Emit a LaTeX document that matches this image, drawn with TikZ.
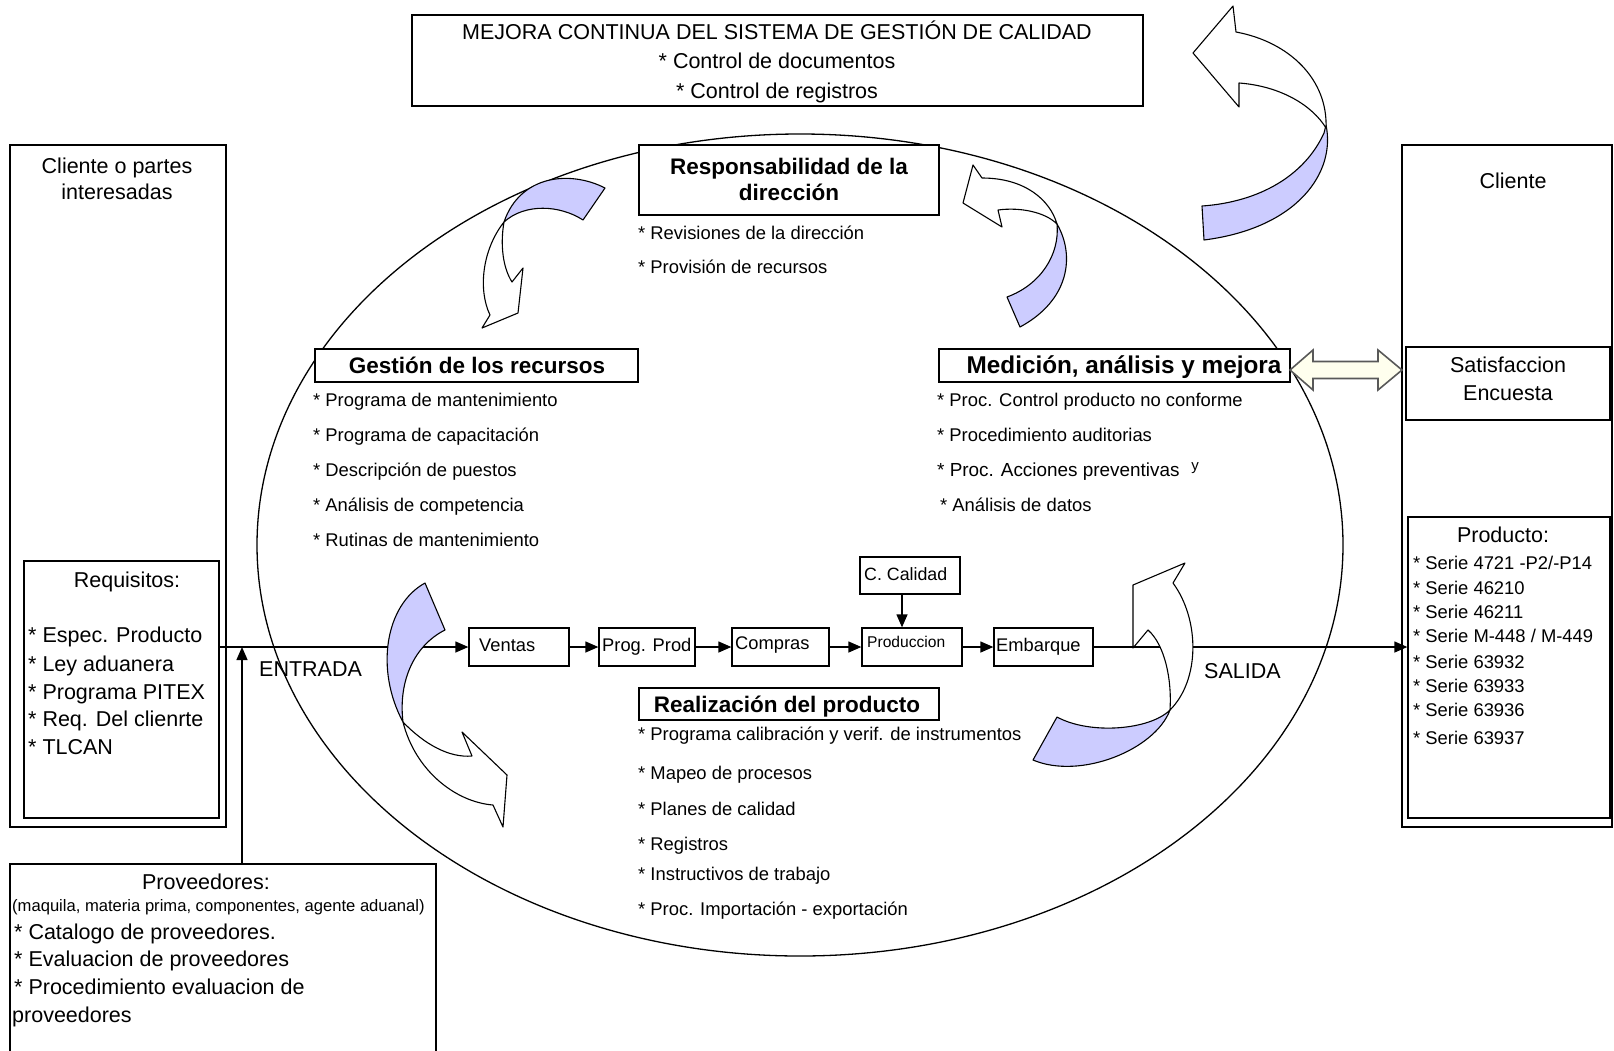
\documentclass[tikz,border=0pt]{standalone}
\usepackage{fontspec}
\setmainfont{Liberation Sans}
\usetikzlibrary{arrows.meta,fit,calc}
\definecolor{ribbon}{RGB}{204,204,255}
\definecolor{dblfill}{RGB}{255,255,238}
\begin{document}
\begin{tikzpicture}[x=1pt,y=-1pt,
  box/.style={draw=black, line width=1.3pt, fill=white, inner sep=0pt},
  conn/.style={draw=black, line width=1.3pt, -{Triangle[length=13pt,width=11pt]}},
  bigt/.style={font=\fontsize{21.5}{26}\selectfont, inner sep=0pt, text height=15.5pt, text depth=0pt},
  itm/.style={font=\fontsize{18.4}{22}\selectfont, inner sep=0pt, text height=13.2pt, text depth=0pt, anchor=west},
  hdr/.style={font=\bfseries\fontsize{22.5}{27}\selectfont, inner sep=0pt, text height=16.2pt, text depth=0pt},
  ptxt/.style={font=\fontsize{18.3}{22}\selectfont, inner sep=0pt, text height=13.2pt, text depth=0pt, anchor=west},
  bluepart/.style={fill=ribbon, draw=black, line width=1.1pt, line join=round},
  whitepart/.style={fill=white, draw=black, line width=1.1pt, line join=round},
]
\useasboundingbox (0,0) rectangle (1614,1050);
\fill[white] (0,0) rectangle (1614,1050);

% central ellipse
\draw[line width=1.3pt] (800,545) ellipse [x radius=543pt, y radius=411pt];

% boxes
\node[box, fit={(412,15) (1143,106)}] (mejora) {};
\node[box, fit={(10,145) (226,827)}] (cliL) {};
\node[box, fit={(24,561) (219,818)}] (req) {};
\node[box, fit={(10,864) (436,1060)}] (prov) {};
\node[box, fit={(1402,145) (1612,827)}] (cliR) {};
\node[box, fit={(1406,347) (1610,420)}] (satis) {};
\node[box, fit={(1408,517) (1610,818)}] (producto) {};
\node[box, fit={(639,145) (939,215)}] (resp) {};
\node[box, fit={(315,349) (638,382)}] (gest) {};
\node[box, fit={(939,349) (1290,382)}] (med) {};
\node[box, fit={(639,688) (939,720)}] (real) {};
\node[box, fit={(469,628) (569,666)}] (ventas) {};
\node[box, fit={(599,628) (695,666)}] (prog) {};
\node[box, fit={(732,628) (829,666)}] (compras) {};
\node[box, fit={(862,628) (962,666)}] (prod) {};
\node[box, fit={(860,557) (960,594)}] (cal) {};
\node[box, fit={(994,628) (1093,666)}] (emb) {};

% connectors
\coordinate (entry) at (242,647);
\draw[conn] (req.east |- ventas.west) -- (ventas.west);
\draw[conn] (ventas.east) -- (prog.west);
\draw[conn] (prog.east) -- (compras.west);
\draw[conn] (compras.east) -- (prod.west);
\draw[conn] (prod.east) -- (emb.west);
\draw[conn] (emb.east) -- (emb.east -| producto.west);
\draw[conn] ([xshift=-8pt]cal.south) -- ([xshift=-8pt]cal.south |- prod.north);
\draw[conn] (entry |- prov.north) -- (entry);

% double arrow between Medicion and Satisfaccion
\draw[fill=dblfill, draw=black!65, line width=1.6pt, line join=miter]
  (1290,370) -- (1313,350) -- (1313,361.5) -- (1378,361.5) -- (1378,350) -- (1402,370)
  -- (1378,390) -- (1378,378.5) -- (1313,378.5) -- (1313,390) -- cycle;

% curved ribbon arrows
% 1: top right
\draw[bluepart] (1326,125) .. controls (1336,172) and (1298,228) .. (1204,240) -- (1202,206)
  .. controls (1260,202) and (1305,175) .. (1324,133) -- cycle;
\draw[whitepart] (1193,53) -- (1233,6) -- (1236,32) .. controls (1290,42) and (1328,80) .. (1326,128)
  .. controls (1312,105) and (1280,86) .. (1239,83) -- (1239,107) -- cycle;
% 2: upper left
\draw[bluepart] (605,188) .. controls (570,170) and (520,175) .. (504,222)
  .. controls (525,203) and (560,205) .. (583,220) -- cycle;
\draw[whitepart] (504,222) .. controls (482,250) and (478,290) .. (490,315) -- (482,328) -- (518,313)
  -- (523,268) -- (512,282) .. controls (503,268) and (500,245) .. (504,222) -- cycle;
% 3: upper right
\draw[bluepart] (1057,224) .. controls (1075,255) and (1070,300) .. (1020,327) -- (1007,297)
  .. controls (1040,285) and (1060,255) .. (1057,224) -- cycle;
\draw[whitepart] (963,203) -- (973,165) -- (982,178) .. controls (1025,178) and (1050,200) .. (1057,224)
  .. controls (1045,212) and (1020,207) .. (998,210) -- (1002,227) -- cycle;
% 4: lower left
\draw[bluepart] (425,583) .. controls (385,605) and (375,670) .. (403,722)
  .. controls (398,680) and (415,645) .. (445,630) -- cycle;
\draw[whitepart] (403,722) .. controls (425,745) and (450,758) .. (472,756) -- (462,732) -- (507,775)
  -- (503,827) -- (493,805) .. controls (455,802) and (415,770) .. (403,722) -- cycle;
% 5: lower right
\draw[bluepart] (1170,710) .. controls (1155,750) and (1080,780) .. (1033,760) -- (1057,717)
  .. controls (1090,735) and (1150,730) .. (1170,710) -- cycle;
\draw[whitepart] (1133,585) -- (1185,563) -- (1173,583) .. controls (1200,620) and (1200,680) .. (1170,710)
  .. controls (1172,680) and (1165,645) .. (1148,630) -- (1133,648) -- cycle;

% texts: top box
\node[bigt] (m1) at (777,32) {MEJORA CONTINUA DEL SISTEMA DE GESTIÓN DE CALIDAD};
\node[bigt] (m2) at (777,61) {* Control de documentos};
\node[bigt] (m3) at (777,91) {* Control de registros};

% left column
\node[bigt] (cl1) at (117,166) {Cliente o partes};
\node[bigt] (cl2) at (117,192) {interesadas};
\node[bigt] (rq0) at (127,580) {Requisitos:};
\node[bigt, anchor=west] (rq1) at (28,635) {* Espec. Producto};
\node[bigt, anchor=west] (rq2) at (28,664) {* Ley aduanera};
\node[bigt, anchor=west] (rq3) at (28,692) {* Programa PITEX};
\node[bigt, anchor=west] (rq4) at (28,719) {* Req. Del clienrte};
\node[bigt, anchor=west] (rq5) at (28,747) {* TLCAN};

% proveedores
\node[bigt] (pv0) at (206,882) {Proveedores:};
\node[font=\fontsize{16.6}{20}\selectfont, inner sep=0pt, text height=12pt, text depth=0pt, anchor=west] (pv1) at (12,905) {(maquila, materia prima, componentes, agente aduanal)};
\node[bigt, anchor=west] (pv2) at (14,932) {* Catalogo de proveedores.};
\node[bigt, anchor=west] (pv3) at (14,959) {* Evaluacion de proveedores};
\node[bigt, anchor=west] (pv4) at (14,987) {* Procedimiento evaluacion de};
\node[bigt, anchor=west] (pv5) at (12,1015) {proveedores};

\node[bigt, anchor=west] (entr) at (259,669) {ENTRADA};
\node[bigt, anchor=west] (sal) at (1204,671) {SALIDA};

% responsabilidad
\node[hdr] (rs1) at (789,166) {Responsabilidad de la};
\node[hdr] (rs2) at (789,192) {dirección};
\node[itm] (rsi1) at (638,233) {* Revisiones de la dirección};
\node[itm] (rsi2) at (638,267) {* Provisión de recursos};

% gestion
\node[hdr] (gs) at (477,365) {Gestión de los recursos};
\node[itm] (gs1) at (313,400) {* Programa de mantenimiento};
\node[itm] (gs2) at (313,435) {* Programa de capacitación};
\node[itm] (gs3) at (313,470) {* Descripción de puestos};
\node[itm] (gs4) at (313,505) {* Análisis de competencia};
\node[itm] (gs5) at (313,540) {* Rutinas de mantenimiento};

% medicion
\node[hdr, font=\bfseries\fontsize{24.3}{28}\selectfont, text height=17.4pt] (md) at (1124,365) {Medición, análisis y mejora};
\node[itm] (md1) at (937,400) {* Proc. Control producto no conforme};
\node[itm] (md2) at (937,435) {* Procedimiento auditorias};
\node[itm, font=\fontsize{18.9}{22}\selectfont] (md3) at (937,470) {* Proc. Acciones preventivas};
\node[font=\fontsize{15}{18}\selectfont, inner sep=0pt] (md3y) at (1195,468) {y};
\node[itm] (md4) at (940,505) {* Análisis de datos};

% realizacion
\node[hdr] (rl) at (787,704) {Realización del producto};
\node[itm] (rl1) at (638,734) {* Programa calibración y verif. de instrumentos};
\node[itm] (rl2) at (638,773) {* Mapeo de procesos};
\node[itm] (rl3) at (638,809) {* Planes de calidad};
\node[itm] (rl4) at (638,844) {* Registros};
\node[itm] (rl5) at (638,874) {* Instructivos de trabajo};
\node[itm] (rl6) at (638,909) {* Proc. Importación - exportación};

% process row texts
\node[ptxt] (tv) at (479,645) {Ventas};
\node[ptxt] (tp) at (602,645) {Prog. Prod};
\node[ptxt] (tc) at (735,643) {Compras};
\node[ptxt, font=\fontsize{15.6}{19}\selectfont, text height=11.2pt] (tpr) at (867,642) {Produccion};
\node[ptxt, font=\fontsize{17.8}{21}\selectfont] (tcc) at (864,574) {C. Calidad};
\node[ptxt] (te) at (996,645) {Embarque};

% right column
\node[bigt] (cr) at (1513,181) {Cliente};
\node[bigt] (st1) at (1508,365) {Satisfaccion};
\node[bigt] (st2) at (1508,393) {Encuesta};
\node[bigt] (pr0) at (1503,535) {Producto:};
\node[itm] (pr1) at (1413,563) {* Serie 4721 -P2/-P14};
\node[itm] (pr2) at (1413,588) {* Serie 46210};
\node[itm] (pr3) at (1413,612) {* Serie 46211};
\node[itm] (pr4) at (1413,636) {* Serie M-448 / M-449};
\node[itm] (pr5) at (1413,662) {* Serie 63932};
\node[itm] (pr6) at (1413,686) {* Serie 63933};
\node[itm] (pr7) at (1413,710) {* Serie 63936};
\node[itm] (pr8) at (1413,738) {* Serie 63937};
\end{tikzpicture}
\end{document}
